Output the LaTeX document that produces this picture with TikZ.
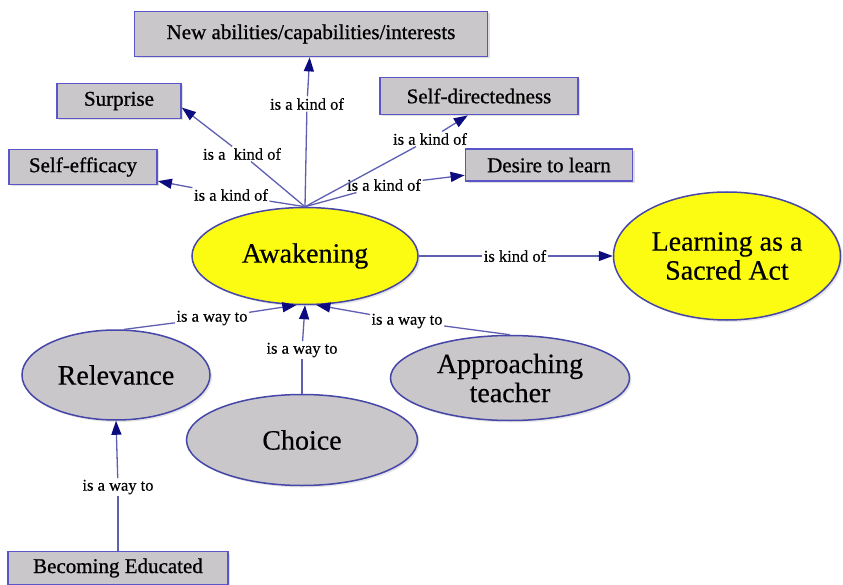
\documentclass[tikz,border=0pt]{standalone}
\usepackage{fontspec}
\setmainfont{Liberation Serif}
\newfontfamily\boxfont{Liberation Serif}[FakeBold=0.8]
\newfontfamily\elfont{Liberation Serif}[FakeBold=0.4]
\newfontfamily\labfont{Liberation Serif}[FakeBold=0.4]
\usetikzlibrary{arrows.meta,shapes.geometric,shadows}
\definecolor{boxfill}{HTML}{C9C7CA}
\definecolor{boxline}{HTML}{5A55C8}
\definecolor{elline}{HTML}{4646A8}
\definecolor{yel}{HTML}{FCFC12}
\definecolor{conn}{HTML}{5E5EB2}
\definecolor{tipc}{HTML}{0C0C80}
\tikzset{
  cbox/.style={rectangle, draw=boxline, fill=boxfill, line width=1.8pt, inner sep=0pt,
    font=\boxfont\fontsize{21}{24}\selectfont,
    drop shadow={opacity=0.25, shadow xshift=2pt, shadow yshift=-2pt}},
  yell/.style={ellipse, draw=elline, fill=yel, line width=1.5pt, inner sep=0pt,
    font=\elfont\fontsize{28}{29}\selectfont, align=center,
    drop shadow={opacity=0.2, shadow xshift=2pt, shadow yshift=-2pt}},
  gell/.style={ellipse, draw=elline, fill=boxfill, line width=1.5pt, inner sep=0pt,
    font=\elfont\fontsize{28}{29}\selectfont, align=center,
    drop shadow={opacity=0.2, shadow xshift=2pt, shadow yshift=-2pt}},
  lab/.style={inner sep=1.5pt, font=\labfont\fontsize{16.5}{17}\selectfont},
  con/.style={draw=conn, line width=1.3pt},
  arr/.style={con, -{Triangle[length=14pt,width=10pt,color=tipc]}},
}
\begin{document}
\begin{tikzpicture}[x=1pt,y=-1pt]
\useasboundingbox[fill=white] (0,0) rectangle (843,585);
% concepts
\node[cbox, minimum width=353pt, minimum height=45pt] (new) at (311,34) {New abilities/capabilities/interests};
\node[cbox, minimum width=124pt, minimum height=35pt] (sur) at (119,101) {Surprise};
\node[cbox, minimum width=198pt, minimum height=37pt] (sd) at (479,96) {Self-directedness};
\node[cbox, minimum width=148pt, minimum height=35pt] (se) at (83,167) {Self-efficacy};
\node[cbox, minimum width=167pt, minimum height=32pt] (des) at (549,165) {Desire to learn};
\node[cbox, minimum width=220pt, minimum height=33pt] (be) at (118,568) {Becoming Educated};
\node[yell, minimum width=226pt, minimum height=97pt] (aw) at (305,256) {Awakening};
\node[yell, minimum width=227pt, minimum height=128pt] (lsa) at (727,256) {Learning as a\\Sacred Act};
\node[gell, minimum width=188pt, minimum height=90pt] (rel) at (116,375) {Relevance};
\node[gell, minimum width=231pt, minimum height=91pt] (cho) at (302,440) {Choice};
\node[gell, minimum width=239pt, minimum height=85pt] (app) at (510,378) {Approaching\\teacher};
% linking phrases
\node[lab] (lnew) at (307,104) {is a kind of};
\node[lab] (lsur) at (242,154) {is a~ kind of};
\node[lab] (lse) at (231,195) {is a kind of};
\node[lab] (lsd) at (430,139) {is a kind of};
\node[lab] (ldes) at (384,185) {is a kind of};
\node[lab] (llsa) at (515,256) {is kind of};
\node[lab] (lrel) at (212,318) {is a way to};
\node[lab] (lcho) at (302,350) {is a way to};
\node[lab] (lapp) at (407,321) {is a way to};
\node[lab] (lbe) at (118,487) {is a way to};
% connectors
\draw[con] (aw.north) -- (lnew); \draw[arr] (lnew) -- (new);
\draw[con] (aw.north) -- (lsur); \draw[arr] (lsur) -- (sur.-6);
\draw[con] (aw.north) -- (lse); \draw[arr] (lse) -- (se);
\draw[con] (aw.north) -- (lsd); \draw[arr] (lsd) -- (sd.240);
\draw[con] (aw.north) -- (ldes); \draw[arr] (ldes) -- (des);
\draw[con] (aw.east) -- (llsa); \draw[arr] (llsa) -- (lsa.west);
\draw[con] (rel.80) -- (lrel); \draw[arr] (lrel) -- (aw.260);
\draw[con] (cho.north) -- (lcho); \draw[arr] (lcho) -- (aw.south);
\draw[con] (app.north) -- (lapp); \draw[arr] (lapp) -- (aw.283);
\draw[con] (be.north) -- (lbe); \draw[arr] (lbe) -- (rel.south);
\end{tikzpicture}
\end{document}
